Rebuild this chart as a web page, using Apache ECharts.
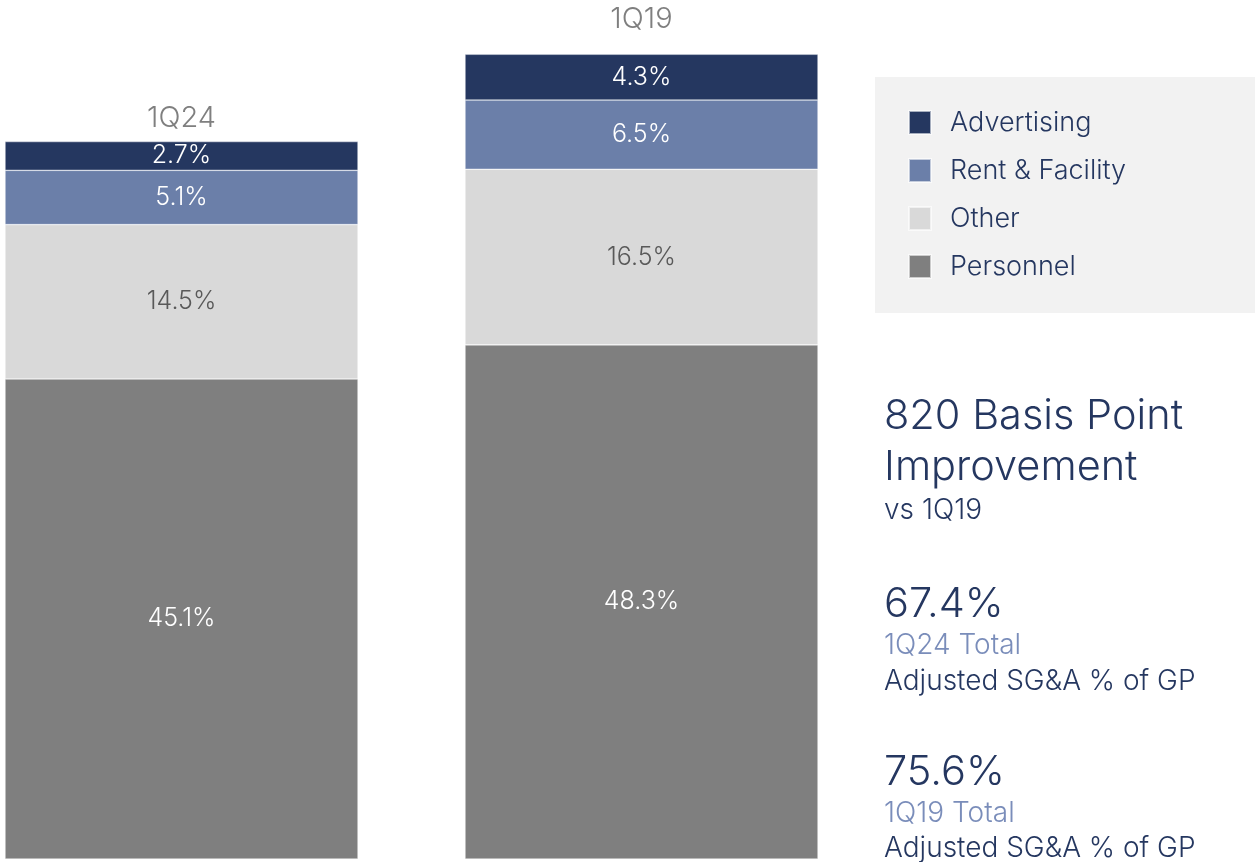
<!DOCTYPE html>
<html>
<head>
<meta charset="utf-8">
<script src="https://cdn.jsdelivr.net/npm/echarts@6/dist/echarts.min.js"></script>
<style>html,body{margin:0;padding:0;background:#fff}#c{width:1255px;height:862px}</style>
</head>
<body>
<div id="c"></div>
<script>
var categories = ['1Q24', '1Q19'];
var personnel = [45.1, 48.3];
var other = [14.5, 16.5];
var rentFacility = [5.1, 6.5];
var advertising = [2.7, 4.3];
var totals = [67.4, 75.6];
var legendNames = ['Advertising', 'Rent & Facility', 'Other', 'Personnel'];

var FONT = 'Inter, "Open Sans", sans-serif';
var NAVY = '#253760';
var LIGHTBLUE = '#7a8dba';

function seg(name, data, color, labelColor) {
  return {
    name: name, type: 'bar', stack: 'sga', data: data, barWidth: 353, clip: false,
    itemStyle: { color: color, borderColor: 'rgba(255,255,255,0.6)', borderWidth: 0.6 },
    label: { show: true, position: 'inside', color: labelColor, fontFamily: FONT, fontWeight: 300, fontSize: 25,
      formatter: function (p) { return p.value.toFixed(1) + '%'; } },
    emphasis: { disabled: true }
  };
}

var chart = echarts.init(document.getElementById('c'), null, { renderer: 'canvas' });
chart.setOption({
  animation: false,
  backgroundColor: '#ffffff',
  grid: { left: 181.5, right: 613.5, top: 0, bottom: 3, containLabel: false },
  xAxis: { type: 'category', data: categories, boundaryGap: false, axisLine: { show: false }, axisTick: { show: false }, axisLabel: { show: false }, splitLine: { show: false } },
  yAxis: { type: 'value', min: 0, max: 80.7, show: false, splitLine: { show: false } },
  legend: {
    data: legendNames, orient: 'vertical', left: 908, top: 109, padding: 0,
    itemWidth: 22, itemHeight: 23, itemGap: 21, icon: 'rect',
    textStyle: { color: NAVY, fontFamily: FONT, fontWeight: 300, fontSize: 27, lineHeight: 25, padding: [0, 0, 0, 14] },
    selectedMode: false
  },
  series: [
    seg('Personnel', personnel, '#7f7f7f', '#ffffff'),
    seg('Other', other, '#d9d9d9', '#595959'),
    seg('Rent & Facility', rentFacility, '#6b7fa9', '#ffffff'),
    seg('Advertising', advertising, '#253760', '#ffffff'),
    {
      name: 'cat', type: 'bar', stack: 'sga', barWidth: 353, clip: false,
      data: [{ value: 0, label: { distance: 9 } }, { value: 0, label: { distance: 21 } }],
      itemStyle: { color: 'transparent' },
      label: { show: true, position: 'top', color: '#7f7f7f', fontFamily: FONT, fontWeight: 300, fontSize: 29,
        formatter: function (p) { return p.name; } },
      emphasis: { disabled: true }, tooltip: { show: false }
    }
  ],
  graphic: [
    { type: 'rect', left: 875, top: 77, z: -1, shape: { width: 380, height: 236 }, style: { fill: '#f2f2f2' } },
    { type: 'text', left: 884, top: 396, style: { text: '820 Basis Point', fill: NAVY, font: '300 41.5px ' + FONT } },
    { type: 'text', left: 884, top: 447, style: { text: 'Improvement', fill: NAVY, font: '300 41.5px ' + FONT } },
    { type: 'text', left: 884, top: 497, style: { text: 'vs 1Q19', fill: NAVY, font: '300 28px ' + FONT } },
    { type: 'text', left: 884, top: 584, style: { text: totals[0].toFixed(1) + '%', fill: NAVY, font: '300 41.5px ' + FONT } },
    { type: 'text', left: 884, top: 632, style: { text: '1Q24 Total', fill: LIGHTBLUE, font: '300 28px ' + FONT } },
    { type: 'text', left: 884, top: 668, style: { text: 'Adjusted SG&A % of GP', fill: NAVY, font: '300 28px ' + FONT } },
    { type: 'text', left: 884, top: 752, style: { text: totals[1].toFixed(1) + '%', fill: NAVY, font: '300 41.5px ' + FONT } },
    { type: 'text', left: 884, top: 800, style: { text: '1Q19 Total', fill: LIGHTBLUE, font: '300 28px ' + FONT } },
    { type: 'text', left: 884, top: 835, style: { text: 'Adjusted SG&A % of GP', fill: NAVY, font: '300 28px ' + FONT } }
  ]
});
</script>
</body>
</html>
